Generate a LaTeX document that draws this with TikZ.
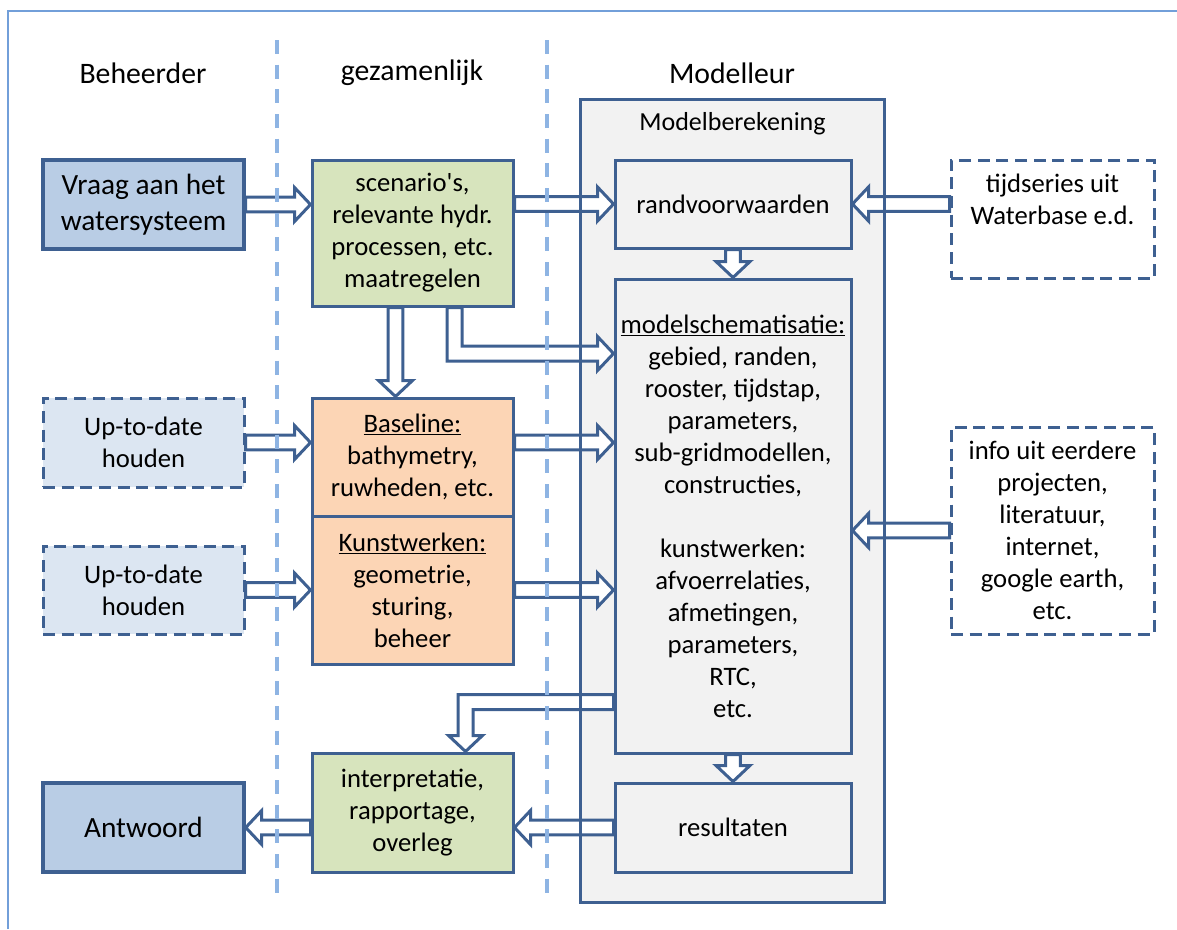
\documentclass[tikz,border=0pt]{standalone}
\usepackage{fontspec}
\setmainfont{Carlito}
\usetikzlibrary{calc}

\definecolor{edge}{HTML}{3E6091}
\definecolor{frameblue}{HTML}{729FD9}
\definecolor{divider}{HTML}{8EB4E3}
\definecolor{bluefill}{HTML}{B9CDE5}
\definecolor{greenfill}{HTML}{D7E4BD}
\definecolor{orangefill}{HTML}{FCD5B5}
\definecolor{palefill}{HTML}{DCE6F2}
\definecolor{grayfill}{HTML}{F2F2F2}

% block-arrow geometry
\newcommand\ashaft{5.6pt}
\newcommand\ahead{12.75pt}
\newcommand\alen{12pt}

% hollow block arrow from #1 to #2 (tip at #2)
\newcommand\blockarrow[2]{%
  \draw[barrow] let \p1=(#1), \p2=(#2),
    \n1={atan2(\y2-\y1,\x2-\x1)}, \n2={veclen(\x2-\x1,\y2-\y1)} in
    [shift={(\p1)}, rotate=\n1]
    (0pt,\ashaft) -- (\n2-\alen,\ashaft) -- (\n2-\alen,\ahead) -- (\n2+0pt,0pt)
    -- (\n2-\alen,-\ahead) -- (\n2-\alen,-\ashaft) -- (0pt,-\ashaft) -- cycle;}

\tikzset{
  box/.style={draw=edge, line width=2.25pt, inner sep=0pt, align=center,
    font=\fontsize{20}{24}\selectfont},
  dbox/.style={box, dash pattern=on 9pt off 5pt},
  bigbox/.style={box, line width=2.6pt, font=\fontsize{22}{27}\selectfont},
  header/.style={font=\fontsize{22.3}{26}\selectfont, inner sep=0pt},
  plain/.style={inner sep=0pt, align=center, font=\fontsize{20}{24}\selectfont},
  barrow/.style={draw=edge, fill=white, line width=2.25pt, line join=miter},
  sep/.style={draw=divider, line width=2.5pt, dash pattern=on 10.5pt off 8pt},
}

\begin{document}
\begin{tikzpicture}[x=0.75pt, y=-0.75pt]
\useasboundingbox (0,0) rectangle (1177,929);

% outer frame
\draw[frameblue, line width=1.5pt] (8,929) -- (8,11) -- (1177,11);

% column headers
\node[header] (beh)  at (143,73) {Beheerder};
\node[header] (gez)  at (412,73) {gezamenlijk};
\node[header] (modl) at (732,73) {Modelleur};

% model computation frame (fill only, border drawn later)
\node[fill=grayfill, minimum width=303*0.75pt, minimum height=802*0.75pt, inner sep=0pt]
  (mb) at (732.5,501) {};
\node[inner sep=0pt, font=\fontsize{19.5}{23}\selectfont] (mbt) at (732.5,124) {Modelberekening};

% left column
\node[bigbox, fill=bluefill, minimum width=201*0.75pt, minimum height=89*0.75pt]
  (vraag) at (143.5,204.5) {Vraag aan het\\watersysteem};
\node[dbox, fill=palefill, minimum width=201*0.75pt, minimum height=89*0.75pt]
  (up1) at (143.5,442.5) {Up-to-date\\houden};
\node[dbox, fill=palefill, minimum width=201*0.75pt, minimum height=88*0.75pt]
  (up2) at (143.5,590) {Up-to-date\\houden};
\node[bigbox, fill=bluefill, minimum width=201*0.75pt, minimum height=89*0.75pt]
  (antw) at (143.5,827.5) {Antwoord};

% middle column
\node[box, fill=greenfill, minimum width=201*0.75pt, minimum height=146*0.75pt]
  (sc) at (412.5,233) {scenario\textquotesingle s,\\relevante hydr.\\processen, etc.\\maatregelen};
\node[box, fill=orangefill, minimum width=201*0.75pt, minimum height=118*0.75pt]
  (base) at (412.5,457) {\underline{Baseline:}\\bathymetry,\\ruwheden, etc.};
\node[box, fill=orangefill, minimum width=201*0.75pt, minimum height=148*0.75pt]
  (kunst) at (412.5,590) {\underline{Kunstwerken:}\\geometrie,\\sturing,\\beheer};
\node[box, fill=greenfill, minimum width=201*0.75pt, minimum height=119*0.75pt]
  (interp) at (412.5,812.5) {interpretatie,\\rapportage,\\overleg};

% model column
\node[box, fill=grayfill, minimum width=236*0.75pt, minimum height=88*0.75pt]
  (rv) at (733,204) {randvoorwaarden};
\node[box, fill=grayfill, minimum width=236*0.75pt, minimum height=474*0.75pt]
  (ms) at (733,516) {\underline{modelschematisatie:}\\gebied, randen,\\rooster, tijdstap,\\parameters,\\sub-gridmodellen,\\constructies,\\[24pt]kunstwerken:\\afvoerrelaties,\\afmetingen,\\parameters,\\RTC,\\etc.};
\node[box, fill=grayfill, minimum width=236*0.75pt, minimum height=89*0.75pt]
  (res) at (733,827.5) {resultaten};

% external sources
\node[dbox, fill=white, minimum width=203*0.75pt, minimum height=118*0.75pt]
  (tijd) at (1052.5,219) {};
\node[plain] (tijdtxt) at (1052.5,199) {tijdseries uit\\Waterbase e.d.};
\node[dbox, fill=white, minimum width=203*0.75pt, minimum height=207*0.75pt]
  (info) at (1052.5,530.5) {info uit eerdere\\projecten,\\literatuur,\\internet,\\google earth,\\etc.};

% straight flows
\blockarrow{vraag.east}{sc.west |- vraag.east}
\blockarrow{sc.east |- rv.west}{rv.west}
\blockarrow{tijd.west |- rv.east}{rv.east}
\blockarrow{rv.south}{ms.north}
\blockarrow{ms.south}{res.north}
\blockarrow{$(sc.south)+(-17,0)$}{$(base.north)+(-17,0)$}
\blockarrow{up1.east}{base.west |- up1.east}
\blockarrow{up2.east}{kunst.west |- up2.east}
\blockarrow{base.east |- up1.east}{ms.west |- up1.east}
\blockarrow{kunst.east |- up2.east}{ms.west |- up2.east}
\blockarrow{info.west}{ms.east |- info.west}
\blockarrow{res.west}{interp.east |- res.west}
\blockarrow{interp.west |- antw.east}{antw.east}

% elbow: scenarios down, then right into the schematisation
\coordinate (e1s) at ($(sc.south)+(42,0)$);
\coordinate (e1c) at ($(e1s)+(0,46)$);
\coordinate (e1t) at (e1c -| ms.west);
\draw[barrow] ($(e1s)+(-7.5,0)$) -- ($(e1c)+(-7.5,7.5)$) -- ($(e1t)+(-16,7.5)$)
  -- ($(e1t)+(-16,17)$) -- (e1t) -- ($(e1t)+(-16,-17)$) -- ($(e1t)+(-16,-7.5)$)
  -- ($(e1c)+(7.5,-7.5)$) -- ($(e1s)+(7.5,0)$) -- cycle;

% elbow: schematisation left, then down into interpretation
\coordinate (e2s) at (ms.west |- 0,702);
\coordinate (e2t) at ($(interp.north)+(53,0)$);
\coordinate (e2c) at (e2t |- e2s);
\draw[barrow] ($(e2s)+(0,-7.5)$) -- ($(e2c)+(-7.5,-7.5)$) -- ($(e2t)+(-7.5,-16)$)
  -- ($(e2t)+(-17,-16)$) -- (e2t) -- ($(e2t)+(17,-16)$) -- ($(e2t)+(7.5,-16)$)
  -- ($(e2c)+(7.5,7.5)$) -- ($(e2s)+(0,7.5)$) -- cycle;

% border of the model computation frame, over the arrows
\draw[edge, line width=2.25pt] (mb.north west) rectangle (mb.south east);

% column dividers
\draw[sep] (277,40) -- (277,902);
\draw[sep] (547,40) -- (547,902);
\end{tikzpicture}
\end{document}
